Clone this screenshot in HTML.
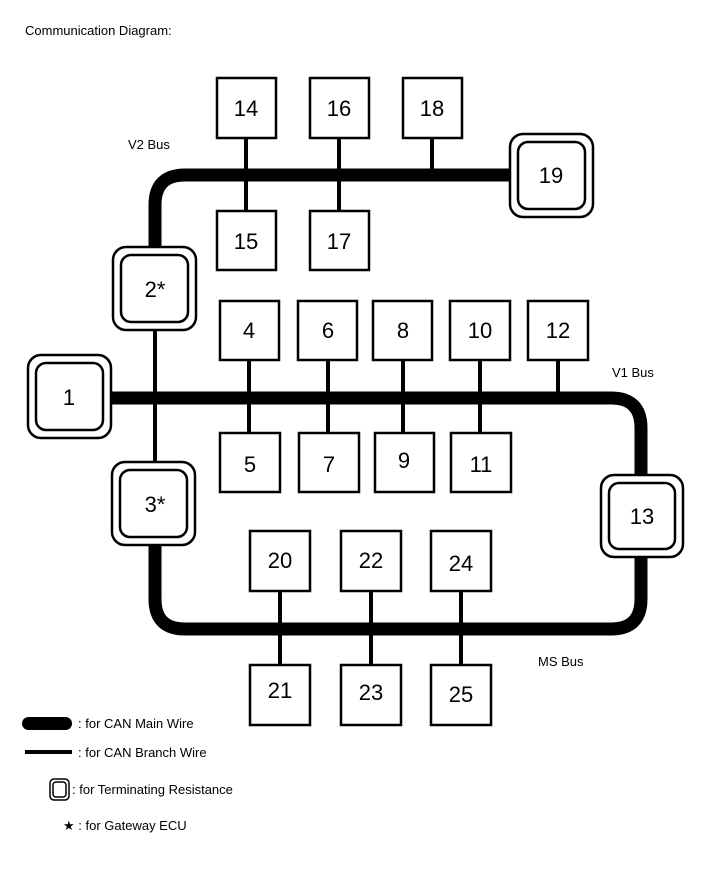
<!DOCTYPE html>
<html><head><meta charset="utf-8"><style>
body{margin:0;background:#fff;}
svg text{font-family:"Liberation Sans",Arial,sans-serif;fill:#000;}
</style></head><body>
<svg width="713" height="882" viewBox="0 0 713 882" xmlns="http://www.w3.org/2000/svg">
<rect width="713" height="882" fill="#fff"/>
<text x="25" y="35" font-size="13">Communication Diagram:</text>
<text x="128" y="149" font-size="13">V2 Bus</text>
<text x="612" y="377" font-size="13">V1 Bus</text>
<text x="538" y="666" font-size="13">MS Bus</text>

<g fill="none" stroke="#000" stroke-width="13">
<path d="M155,250 V205 Q155,175 185,175 H512"/>
<path d="M111,398 H611 Q641,398 641,428 V476"/>
<path d="M155,544 V599 Q155,629 185,629 H611 Q641,629 641,599 V556"/>
</g>
<g stroke="#000" stroke-width="4" fill="none">
<line x1="155" y1="330" x2="155" y2="463"/>
<line x1="246" y1="138" x2="246" y2="211"/>
<line x1="339" y1="138" x2="339" y2="211"/>
<line x1="432" y1="138" x2="432" y2="175"/>
<line x1="249" y1="360" x2="249" y2="433"/>
<line x1="328" y1="360" x2="328" y2="433"/>
<line x1="403" y1="360" x2="403" y2="433"/>
<line x1="480" y1="360" x2="480" y2="433"/>
<line x1="558" y1="360" x2="558" y2="398"/>
<line x1="280" y1="591" x2="280" y2="665"/>
<line x1="371" y1="591" x2="371" y2="665"/>
<line x1="461" y1="591" x2="461" y2="665"/>
</g>
<g fill="#fff" stroke="#000" stroke-width="2.5">
<rect x="217" y="78" width="59" height="60"/>
<rect x="310" y="78" width="59" height="60"/>
<rect x="403" y="78" width="59" height="60"/>
<rect x="217" y="211" width="59" height="59"/>
<rect x="310" y="211" width="59" height="59"/>
<rect x="220" y="301" width="59" height="59"/>
<rect x="298" y="301" width="59" height="59"/>
<rect x="373" y="301" width="59" height="59"/>
<rect x="450" y="301" width="60" height="59"/>
<rect x="528" y="301" width="60" height="59"/>
<rect x="220" y="433" width="60" height="59"/>
<rect x="299" y="433" width="60" height="59"/>
<rect x="375" y="433" width="59" height="59"/>
<rect x="451" y="433" width="60" height="59"/>
<rect x="250" y="531" width="60" height="60"/>
<rect x="341" y="531" width="60" height="60"/>
<rect x="431" y="531" width="60" height="60"/>
<rect x="250" y="665" width="60" height="60"/>
<rect x="341" y="665" width="60" height="60"/>
<rect x="431" y="665" width="60" height="60"/>
</g>
<g fill="#fff" stroke="#000" stroke-width="2.5">
<rect x="510" y="134" width="83" height="83" rx="13"/>
<rect x="518" y="142" width="67" height="67" rx="10"/>
<rect x="113" y="247" width="83" height="83" rx="13"/>
<rect x="121" y="255" width="67" height="67" rx="10"/>
<rect x="28" y="355" width="83" height="83" rx="13"/>
<rect x="36" y="363" width="67" height="67" rx="10"/>
<rect x="112" y="462" width="83" height="83" rx="13"/>
<rect x="120" y="470" width="67" height="67" rx="10"/>
<rect x="601" y="475" width="82" height="82" rx="13"/>
<rect x="609" y="483" width="66" height="66" rx="10"/>
</g>
<g font-size="22" text-anchor="middle">
<text x="246" y="116">14</text><text x="339" y="116">16</text><text x="432" y="116">18</text>
<text x="246" y="249">15</text><text x="339" y="249">17</text>
<text x="551" y="183">19</text>
<text x="155" y="297">2*</text>
<text x="69" y="405">1</text>
<text x="155" y="512">3*</text>
<text x="642" y="524">13</text>
<text x="249" y="338">4</text><text x="328" y="338">6</text><text x="403" y="338">8</text><text x="480" y="338">10</text><text x="558" y="338">12</text>
<text x="250" y="472">5</text><text x="329" y="472">7</text><text x="404" y="468">9</text><text x="481" y="472">11</text>
<text x="280" y="568">20</text><text x="371" y="568">22</text><text x="461" y="571">24</text>
<text x="280" y="698">21</text><text x="371" y="700">23</text><text x="461" y="702">25</text>
</g>
<rect x="22" y="717" width="50" height="13" rx="6.5" fill="#000"/>
<line x1="25" y1="752" x2="72" y2="752" stroke="#000" stroke-width="4"/>
<rect x="50" y="779" width="19" height="21" rx="4" fill="#fff" stroke="#000" stroke-width="1.5"/>
<rect x="53" y="782" width="13" height="15" rx="3" fill="#fff" stroke="#000" stroke-width="1.5"/>
<g font-size="13">
<text x="78" y="728">: for CAN Main Wire</text>
<text x="78" y="757">: for CAN Branch Wire</text>
<text x="72" y="794">: for Terminating Resistance</text>
<text x="63" y="830">★ : for Gateway ECU</text>
</g>
</svg>
</body></html>
